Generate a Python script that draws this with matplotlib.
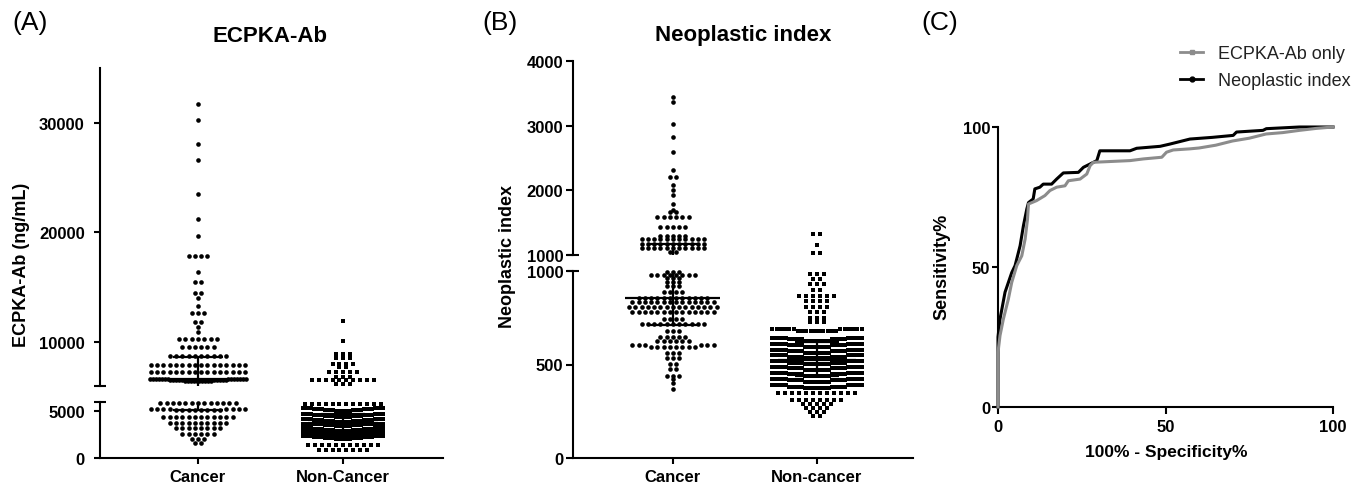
import numpy as np
import matplotlib
matplotlib.use('Agg')
import matplotlib.pyplot as plt
from matplotlib.lines import Line2D

plt.rcParams['font.family'] = ['Liberation Sans', 'DejaVu Sans']
plt.rcParams['font.weight'] = 'bold'

# ---- data: row value -> number of dots in that row ----
# (A) ECPKA-Ab (ng/mL)
a_can_vals = [31700, 30300, 28100, 26600, 23500, 21200, 19700, 17900, 16400, 15500,
              14500, 14000, 13300, 12700, 11800, 11400, 10900, 10300, 9550, 8700,
              7900, 7250, 6650, 6550, 6450,
              5850, 5250, 5150, 4400, 3800, 3200, 2600, 2000, 1600]
a_can_cnts = [1, 1, 1, 1, 1, 1, 1, 4, 1, 2,
              2, 1, 1, 3, 2, 1, 1, 7, 6, 10,
              16, 16, 14, 10, 10,
              13, 8, 8, 12, 10, 8, 6, 3, 2]
a_non_vals = [11900, 10100, 8900, 8520, 8000, 7700, 7300, 6790, 6570, 6180, 5750,
              5360, 5260, 5160, 5060,
              4720, 4620, 4520, 4420,
              4190, 4090, 3990, 3890,
              3690, 3590, 3490, 3390,
              3240, 3140, 3040, 2940,
              2810, 2710, 2610, 2510,
              2350, 2250, 2150, 2050,
              1400, 900]
a_non_cnts = [1, 1, 3, 3, 4, 2, 5, 3, 10, 3, 12,
              8, 8, 8, 6,
              8, 8, 8, 6,
              8, 8, 8, 6,
              8, 8, 8, 6,
              8, 8, 8, 6,
              8, 8, 8, 6,
              8, 8, 8, 6,
              11, 8]
# median, Q1, Q3 for Cancer / Non-Cancer
a_med = [6640, 3800]
a_q1 = [5100, 2800]
a_q3 = [8640, 4700]

# (B) Neoplastic index
b_can_vals = [3450, 3360, 3030, 2830, 2590, 2310, 2200, 2090, 2000, 1930,
              1790, 1700, 1660, 1580, 1430, 1300, 1240, 1175, 1105, 1040,
              995, 980, 961, 940, 921, 886, 854, 832, 806, 779,
              745, 715, 681, 649, 627, 603, 596, 560, 533, 503,
              476, 440, 422, 400, 369]
b_can_cnts = [1, 1, 1, 1, 1, 1, 2, 1, 1, 1,
              1, 1, 2, 6, 5, 5, 11, 11, 11, 2,
              3, 8, 3, 3, 3, 4, 12, 14, 15, 14,
              4, 11, 3, 5, 6, 6, 8, 3, 3, 2,
              2, 3, 1, 1, 1]
b_non_vals = [1325, 1150, 1030, 984, 957, 930, 900, 865, 841, 806, 782, 747, 726, 688, 680,
              643, 635, 627, 612, 604, 596, 580, 572, 564, 550, 542, 534,
              518, 510, 502, 488, 480, 472, 456, 448, 440, 424, 416, 408,
              389, 381, 373,
              345, 312, 289, 268, 246, 222]
b_non_cnts = [2, 1, 2, 3, 2, 3, 2, 6, 4, 4, 3, 3, 3, 12, 10,
              10, 10, 8, 10, 10, 8, 10, 10, 8, 10, 10, 8,
              10, 10, 8, 10, 10, 8, 10, 10, 8, 10, 10, 8,
              10, 10, 8,
              12, 8, 5, 4, 3, 2]
b_med = [854, 525]
b_q1 = [711, 440]
b_q3 = [1170, 620]

# (C) ROC curves
neo_x = [0, 0, 0.6, 2.1, 3.1, 4.1, 5.1, 6.6, 7.6, 8.6, 9.1, 10.5, 11, 12.5, 13.5, 16, 17.5,
         19.5, 24, 25.5, 27.5, 29.5, 30.4, 39.4, 41.4, 48.4, 51.3, 57.3, 64, 70.2, 71.2,
         79.1, 80.1, 90, 100]
neo_y = [0, 25, 31.4, 41, 44.5, 48, 50.5, 57.6, 64.8, 70.7, 73, 74.3, 77.9, 78.5, 79.6, 79.6,
         81.4, 83.6, 83.8, 85.6, 86.8, 88, 91.5, 91.5, 92.4, 93.1, 93.9, 95.7, 96.3, 97, 98.2,
         98.8, 99.4, 100, 100]
ecp_x = [0, 0, 0.6, 1.6, 3.1, 4.1, 5.6, 7.1, 8.1, 8.8, 9.1, 11.5, 14, 15.5, 17.5, 20, 21,
         24.5, 26.5, 27.5, 28.5, 39.4, 43.4, 48.9, 50.3, 52.3, 57.3, 60, 65, 70, 75, 80, 85,
         90, 95, 100]
ecp_y = [0, 19.5, 25.5, 31.4, 38.6, 44.5, 50.5, 54, 60, 67, 72.5, 73.7, 75.5, 77.3, 78.5,
         79, 80.8, 81.4, 83.2, 86.2, 87.4, 88, 88.6, 89.2, 91, 91.8, 92.2, 92.5, 93.5, 95,
         96, 97.5, 98, 98.8, 99.5, 100]

W, H = 1351, 485
fig = plt.figure(figsize=(W / 100, H / 100), dpi=100)


def px_ax(x0, x1, y_top, y_bot):
    return fig.add_axes([x0 / W, 1 - y_bot / H, (x1 - x0) / W, (y_bot - y_top) / H])


def style(ax, ylen, ypad, bottom):
    ax.spines['top'].set_visible(False)
    ax.spines['right'].set_visible(False)
    ax.spines['left'].set_linewidth(1.5)
    if bottom:
        ax.spines['bottom'].set_linewidth(1.5)
    else:
        ax.spines['bottom'].set_visible(False)
        ax.tick_params(axis='x', bottom=False, labelbottom=False)
    ax.tick_params(axis='y', length=ylen, width=1.5, pad=ypad, labelsize=12)
    ax.tick_params(axis='x', length=4.3, width=1.5, pad=3.5, labelsize=12)


def brk(ax, y_axes, half_px=6):
    d = half_px / (ax.get_position().width * W)
    ax.plot([-d, d], [y_axes, y_axes], transform=ax.transAxes, color='k', lw=1.5,
            clip_on=False, solid_capstyle='butt')


def layout(vals, cnts, tol, dx, half):
    # GraphPad-like rows: close values share a row, lowest in the middle
    v = np.sort(np.repeat(np.array(vals, float), cnts))
    offs = np.zeros_like(v)
    start = 0
    for i in range(1, len(v) + 1):
        if i == len(v) or v[i] - v[i - 1] > tol:
            n = i - start
            step = dx if n < 2 else min(dx, 2 * half / (n - 1))
            k = np.arange(n)
            slot = np.where(k % 2 == 1, (k + 1) // 2, -(k // 2)).astype(float)
            if n % 2 == 0:
                slot -= 0.5
            offs[start:i] = slot * step
            start = i
    return offs, v


def draw_group(axes, xc, vals, cnts, tol, dx, half, marker, size):
    offs, v = layout(vals, cnts, tol, dx, half)
    for ax in axes:
        lo, hi = ax.get_ylim()
        m = (v >= lo) & (v <= hi)
        ax.scatter(xc + offs[m], v[m], s=size, marker=marker, c='k', linewidths=0,
                   clip_on=False, zorder=2)


def stats(axes, xc, med, q1, q3, wm=0.33, wc=0.17):
    for ax in axes:
        kw = dict(color='k', lw=1.6, zorder=3, solid_capstyle='butt')
        ax.plot([xc - wm, xc + wm], [med, med], **kw)
        ax.plot([xc - wc, xc + wc], [q1, q1], **kw)
        ax.plot([xc - wc, xc + wc], [q3, q3], **kw)
        ax.plot([xc, xc], [q1, q3], **kw)


# ---------------- panel A ----------------
axA_up = px_ax(100, 443, 69, 387)
axA_lo = px_ax(100, 443, 403, 459)
for ax in (axA_up, axA_lo):
    ax.set_xlim(0.324, 2.69)
axA_up.set_ylim(6000, 35000)
axA_lo.set_ylim(0, 6000)
axA_up.set_yticks([10000, 20000, 30000])
axA_lo.set_yticks([0, 5000])
axA_lo.set_xticks([1, 2], ['Cancer', 'Non-Cancer'])
style(axA_up, 4, 7, False)
style(axA_lo, 4, 7, True)
brk(axA_up, 0)
brk(axA_lo, 1)
draw_group((axA_up, axA_lo), 1, a_can_vals, a_can_cnts, 110, 0.0434, 0.33, 'o', 11)
draw_group((axA_up, axA_lo), 2, a_non_vals, a_non_cnts, 110, 0.048, 0.276, 's', 6.5)
stats((axA_up, axA_lo), 1, a_med[0], a_q1[0], a_q3[0])
stats((axA_up, axA_lo), 2, a_med[1], a_q1[1], a_q3[1], wm=0.24, wc=0.15)

# ---------------- panel B ----------------
axB_up = px_ax(573, 913, 62, 256)
axB_lo = px_ax(573, 913, 272, 459)
for ax in (axB_up, axB_lo):
    ax.set_xlim(0.306, 2.667)
axB_up.set_ylim(1000, 4000)
axB_lo.set_ylim(0, 1000)
axB_up.set_yticks([1000, 2000, 3000, 4000])
axB_lo.set_yticks([0, 500, 1000])
axB_lo.set_xticks([1, 2], ['Cancer', 'Non-cancer'])
style(axB_up, 5, 2, False)
style(axB_lo, 5, 2, True)
brk(axB_up, 0)
brk(axB_lo, 1)
draw_group((axB_up, axB_lo), 1, b_can_vals, b_can_cnts, 10, 0.0434, 0.326, 'o', 11)
draw_group((axB_up, axB_lo), 2, b_non_vals, b_non_cnts, 10, 0.0486, 0.31, 's', 8)
stats((axB_up, axB_lo), 1, b_med[0], b_q1[0], b_q3[0])
stats((axB_up, axB_lo), 2, b_med[1], b_q1[1], b_q3[1], wm=0.27, wc=0.15)

# ---------------- panel C ----------------
axC = px_ax(998, 1333, 128, 408)
axC.set_xlim(0, 100)
axC.set_ylim(0, 100)
axC.set_xticks([0, 50, 100])
axC.set_yticks([0, 50, 100])
style(axC, 4.5, 1, True)
axC.tick_params(axis='x', length=5, pad=4)
axC.plot(neo_x, neo_y, color='k', lw=2.2, clip_on=False, zorder=2)
axC.plot(ecp_x, ecp_y, color='#8c8c8c', lw=2.2, clip_on=False, zorder=3)
handles = [Line2D([], [], color='#8c8c8c', lw=2, marker='s', ms=3.5),
           Line2D([], [], color='k', lw=2, marker='o', ms=3.5)]
axC.legend(handles, ['ECPKA-Ab only', 'Neoplastic index'], loc='upper left',
           bbox_to_anchor=(1180 / W, 1 - 46 / H), bbox_transform=fig.transFigure,
           frameon=False, borderpad=0, borderaxespad=0, handlelength=1.3,
           handletextpad=0.8, labelspacing=0.55,
           prop={'size': 13, 'weight': 'normal'}, labelcolor='#222222')

# ---------------- texts ----------------
def fx(x):
    return x / W


def fy(y):
    return 1 - y / H


for x, s in [(12, '(A)'), (482, '(B)'), (921, '(C)')]:
    fig.text(fx(x), fy(30), s, fontsize=19, weight='normal', ha='left', va='baseline')
fig.text(fx(270), fy(41.5), 'ECPKA-Ab', fontsize=16, ha='center', va='baseline')
fig.text(fx(743.5), fy(41.5), 'Neoplastic index', fontsize=16, ha='center', va='baseline')
fig.text(fx(22), fy(265), 'ECPKA-Ab (ng/mL)', fontsize=13, rotation=90, ha='center', va='center')
fig.text(fx(507), fy(257), 'Neoplastic index', fontsize=13, rotation=90, ha='center', va='center')
fig.text(fx(942), fy(267), 'Sensitivity%', fontsize=13, rotation=90, ha='center', va='center')
fig.text(fx(1166), fy(453), '100% - Specificity%', fontsize=12.5, ha='center', va='center')

fig.savefig('out.png', dpi=100)
